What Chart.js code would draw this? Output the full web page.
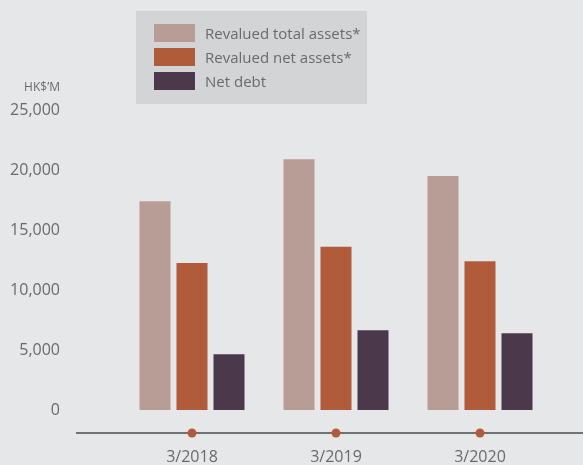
<!DOCTYPE html>
<html>
<head>
<meta charset="utf-8">
<script src="https://cdn.jsdelivr.net/npm/chart.js@4/dist/chart.umd.min.js"></script>
<style>
  html, body { margin: 0; padding: 0; background: #e6e7e9; }
  #wrap { position: relative; width: 583px; height: 465px; background: #e6e7e9; font-family: "Open Sans", sans-serif; }
  #c { display: block; }
  #legend { position: absolute; left: 136px; top: 11px; width: 231px; height: 93px; background: #d3d4d6; }
  .item { position: absolute; left: 18px; height: 18px; display: flex; align-items: center; }
  .sw { width: 41px; height: 18px; margin-right: 10px; }
  .lt { font-size: 15px; color: #6a6a6a; white-space: nowrap; line-height: 18px; }
  #unit { position: absolute; right: 523px; top: 80px; font-size: 12px; color: #6a6a6a; line-height: 14px; }
</style>
</head>
<body>
<div id="wrap">
  <canvas id="c" width="583" height="465"></canvas>
  <div id="legend"></div>
  <div id="unit">HK$’M</div>
</div>
<script>
const categories = ['3/2018', '3/2019', '3/2020'];
const seriesNames = ['Revalued total assets*', 'Revalued net assets*', 'Net debt'];
const totalAssets = [17400, 20900, 19500];
const netAssets = [12250, 13600, 12400];
const netDebt = [4650, 6650, 6400];
const yTicks = [0, 5000, 10000, 15000, 20000, 25000];
const colors = ['#b89d96', '#b05c3a', '#4b384a'];

const seriesValues = [totalAssets, netAssets, netDebt];

const axisDecor = {
  id: 'axisDecor',
  afterDraw(chart) {
    const ctx = chart.ctx;
    const xs = chart.scales.x;
    const y = 433;
    ctx.save();
    ctx.strokeStyle = '#4a4a4a';
    ctx.lineWidth = 1.5;
    ctx.beginPath();
    ctx.moveTo(76, y);
    ctx.lineTo(583, y);
    ctx.stroke();
    ctx.fillStyle = '#b05c3a';
    categories.forEach((c, i) => {
      const x = xs.getPixelForValue(i);
      ctx.beginPath();
      ctx.arc(x, y, 4.5, 0, Math.PI * 2);
      ctx.fill();
    });
    ctx.restore();
  }
};

const chart = new Chart(document.getElementById('c'), {
  type: 'bar',
  data: {
    labels: categories,
    datasets: seriesNames.map((n, i) => ({
      label: n,
      data: seriesValues[i],
      backgroundColor: colors[i],
      borderWidth: 0,
      categoryPercentage: 0.771,
      barPercentage: 0.838
    }))
  },
  options: {
    responsive: false,
    animation: false,
    devicePixelRatio: 1,
    layout: { padding: { left: 0, right: 31, top: 110, bottom: 0 } },
    plugins: { legend: { display: false }, tooltip: { enabled: false } },
    scales: {
      x: {
        grid: { display: false, drawTicks: false },
        border: { display: false },
        ticks: { padding: 38, color: '#6a6a6a', font: { family: 'Open Sans', size: 16 } },
        afterFit(s) { s.height = 55; }
      },
      y: {
        min: 0, max: 25000,
        grid: { display: false, drawTicks: false },
        border: { display: false },
        afterBuildTicks(s) { s.ticks = yTicks.map(v => ({ value: v })); },
        ticks: {
          padding: 60,
          color: '#6a6a6a',
          font: { family: 'Open Sans', size: 16 },
          callback: v => v.toLocaleString('en-US')
        },
        afterFit(s) { s.width = 120; s.paddingTop = 0; s.paddingBottom = 0; }
      }
    }
  },
  plugins: [axisDecor]
});

const legend = document.getElementById('legend');
chart.data.datasets.forEach((ds, i) => {
  const it = document.createElement('div');
  it.className = 'item';
  it.style.top = (13 + i * 24) + 'px';
  const sw = document.createElement('div');
  sw.className = 'sw';
  sw.style.background = ds.backgroundColor;
  const t = document.createElement('span');
  t.className = 'lt';
  t.textContent = ds.label;
  it.appendChild(sw); it.appendChild(t);
  legend.appendChild(it);
});
</script>
</body>
</html>
